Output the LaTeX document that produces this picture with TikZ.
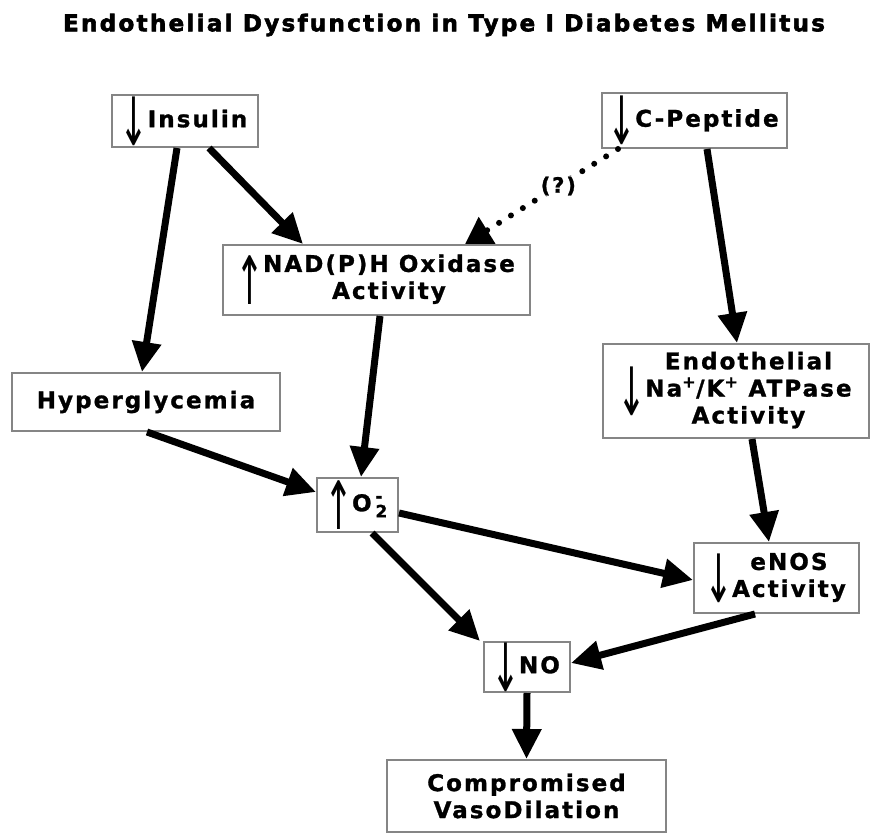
\documentclass[tikz,border=0pt]{standalone}
\usepackage{fontspec}
\usepackage{graphicx}
\setmainfont{DejaVu Sans}
\newfontfamily\boxfont{DejaVu Sans}[LetterSpace=9,FakeBold=1.2]
\newfontfamily\titlefont{DejaVu Sans}[LetterSpace=10,FakeBold=2.5]
\newfontfamily\arrowfont{DejaVu Sans}
\usetikzlibrary{arrows.meta}
\newcommand{\arrdown}{\kern-3pt$\vcenter{\hbox{\scalebox{1.5}[2.9]{\arrowfont\mdseries ↓}}}$\kern-1pt}
\newcommand{\arrup}{\kern-3pt$\vcenter{\hbox{\scalebox{1.5}[2.9]{\arrowfont\mdseries ↑}}}$\kern-1pt}
\newcommand{\smallbox}[1]{\mbox{\fontsize{17}{17}\selectfont #1}}
\begin{document}
\begin{tikzpicture}[x=1pt,y=-1pt,
  box/.style={draw=black!48, line width=2pt, fill=white, inner sep=0pt,
    font=\boxfont\bfseries\fontsize{23}{27}\selectfont, align=center},
  link/.style={line width=7pt, -{Triangle[length=30pt,width=28pt]}},
  dotlink/.style={line width=6pt, line cap=round, dash pattern=on 0pt off 14pt,
    -{Triangle[length=26pt,width=30pt]}},
  qlabel/.style={fill=white, inner sep=1pt, font=\boxfont\bfseries\fontsize{21}{24}\selectfont},
  titlestyle/.style={font=\titlefont\bfseries\fontsize{23}{26}\selectfont}]
\fill[white] (0,0) rectangle (873,834);
\useasboundingbox (0,0) rectangle (873,834);

\node[titlestyle] (title) at (444,25) {Endothelial Dysfunction in Type I Diabetes Mellitus};

\node[box, minimum width=146pt, minimum height=52pt] (ins) at (185,121) {\arrdown Insulin};
\node[box, minimum width=185pt, minimum height=55pt] (cp) at (694.5,120.5) {\arrdown C-Peptide};
\node[box, minimum width=307pt, minimum height=70pt] (nad) at (376.5,280)
  {\arrup\begin{tabular}{@{}c@{}}NAD(P)H Oxidase\\Activity\end{tabular}};
\node[box, minimum width=266pt, minimum height=94pt] (endo) at (736,391)
  {\arrdown\begin{tabular}{@{}c@{}}Endothelial\\Na\textsuperscript{+}/K\textsuperscript{+} ATPase\\Activity\end{tabular}};
\node[box, minimum width=268pt, minimum height=58pt] (hyp) at (146,402) {Hyperglycemia};
\node[box, minimum width=81pt, minimum height=54pt] (o2) at (357.5,505)
  {\arrup O\,$_{\smallbox{2}}^{\smallbox{-}}$};
\node[box, minimum width=165pt, minimum height=70pt] (enos) at (776.5,578)
  {\arrdown\begin{tabular}{@{}c@{}}eNOS\\Activity\end{tabular}};
\node[box, minimum width=86pt, minimum height=50pt] (no) at (527,667) {\arrdown NO};
\node[box, minimum width=279pt, minimum height=72pt] (comp) at (526.5,796)
  {Compromised\\VasoDilation};

\draw[link] ([xshift=-8pt]ins.south) -- ([xshift=-4pt]hyp.north);
\draw[link] ([xshift=24pt]ins.south) -- ([xshift=-73.5pt]nad.north);
\draw[dotlink] ([xshift=17pt]cp.south west) -- node[qlabel, pos=0.39] (q) {(?)} ([xshift=88.5pt]nad.north);
\draw[link] ([xshift=12.5pt]cp.south) -- ([xshift=1pt]endo.north);
\draw[link] ([xshift=3.5pt]nad.south) -- ([xshift=3.5pt]o2.north);
\draw[link] ([xshift=1pt]hyp.south) -- ([yshift=13pt]o2.west);
\draw[link] ([xshift=16pt]endo.south) -- ([xshift=-7.5pt]enos.north);
\draw[link] ([yshift=-8pt]o2.east) -- ([yshift=-2pt]enos.west);
\draw[link] ([xshift=14.5pt]o2.south) -- ([xshift=-3pt]no.north west);
\draw[link] ([xshift=-21.5pt]enos.south) -- ([yshift=4pt]no.east);
\draw[link] (no.south) -- (comp.north);
\end{tikzpicture}
\end{document}
